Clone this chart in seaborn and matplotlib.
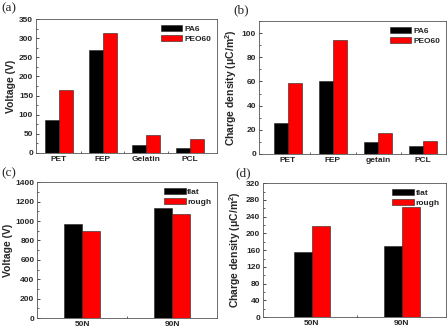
import matplotlib
matplotlib.use("Agg")
import matplotlib.pyplot as plt
from matplotlib.ticker import MultipleLocator
import pandas as pd
import seaborn as sns

# ── data ──────────────────────────────────────────────────────────────────────
materials_a = ["PET", "FEP", "Gelatin", "PCL"]
voltage_pa6 = [85, 270, 20, 13]
voltage_peo60 = [165, 313, 48, 36]

materials_b = ["PET", "FEP", "getain", "PCL"]
charge_pa6 = [26, 60, 9.5, 7]
charge_peo60 = [59, 94, 17, 11]

forces = ["50N", "90N"]
voltage_flat = [970, 1130]
voltage_rough = [900, 1070]
charge_flat = [155, 170]
charge_rough = [218, 263]

sns.set_style("ticks")
plt.rcParams["font.family"] = ["Liberation Sans", "DejaVu Sans"]
plt.rcParams["font.weight"] = "bold"
plt.rcParams["mathtext.fontset"] = "custom"
plt.rcParams["mathtext.rm"] = "Liberation Sans:bold"
plt.rcParams["mathtext.bf"] = "Liberation Sans:bold"
plt.rcParams["mathtext.it"] = "Liberation Sans:bold"


def long_df(cats, s1, s2, names):
    return pd.DataFrame({
        "cat": cats * 2,
        "value": list(s1) + list(s2),
        "series": [names[0]] * len(cats) + [names[1]] * len(cats),
    })


def panel(fig, rect, df, width, xlim, ylim, ymajor, yminor, ylabel, tag, tagpos):
    ax = fig.add_axes(rect)
    sns.barplot(data=df, x="cat", y="value", hue="series",
                palette=["black", "red"], width=width, saturation=1,
                edgecolor="#222222", linewidth=0.4, ax=ax)
    ax.set_xlim(*xlim)
    ax.set_ylim(*ylim)
    ax.yaxis.set_major_locator(MultipleLocator(ymajor))
    ax.yaxis.set_minor_locator(MultipleLocator(yminor))
    ax.set_xticks([i + 0.5 for i in range(df["cat"].nunique() - 1)], minor=True)
    ax.tick_params(which="both", direction="in", labelsize=6, pad=2)
    ax.tick_params(which="major", length=2.5, width=0.6)
    ax.tick_params(which="minor", length=1.5, width=0.5)
    ax.tick_params(axis="x", which="major", length=0)
    for s in ax.spines.values():
        s.set_linewidth(0.6)
        s.set_color("#555555")
    ax.set_xlabel("")
    ax.set_ylabel(ylabel, fontsize=7.5, fontweight="bold", labelpad=2)
    leg = ax.legend(loc="upper right", frameon=False, fontsize=6,
                    handlelength=2.6, handleheight=0.7, handletextpad=0.2,
                    labelspacing=0.25, borderaxespad=0.3)
    for t in leg.get_texts():
        t.set_fontweight("bold")
    fig.text(tagpos[0], tagpos[1], tag, family="Liberation Serif",
             fontweight="normal", fontsize=9.5, ha="left", va="center")
    return ax


fig = plt.figure(figsize=(4.48, 3.29), dpi=100)

panel(fig, [0.080, 0.535, 0.404, 0.407],
      long_df(materials_a, voltage_pa6, voltage_peo60, ["PA6", "PEO60"]),
      0.64, (-0.53, 3.62), (0, 350), 50, 25, "Voltage (V)", "(a)", (0.004, 0.975))

panel(fig, [0.578, 0.532, 0.417, 0.404],
      long_df(materials_b, charge_pa6, charge_peo60, ["PA6", "PEO60"]),
      0.62, (-0.64, 3.5), (0, 110), 20, 10,
      "Charge density ($\\mu$C/m$^2$)", "(b)", (0.522, 0.968))

panel(fig, [0.083, 0.033, 0.402, 0.413],
      long_df(forces, voltage_flat, voltage_rough, ["flat", "rough"]),
      0.4, (-0.5, 1.5), (0, 1400), 200, 100, "Voltage (V)", "(c)", (0.004, 0.474))

panel(fig, [0.587, 0.036, 0.408, 0.407],
      long_df(forces, charge_flat, charge_rough, ["flat", "rough"]),
      0.4, (-0.54, 1.49), (0, 320), 40, 20,
      "Charge density ($\\mu$C/m$^2$)", "(d)", (0.525, 0.474))

fig.savefig("out.png", dpi=100)
